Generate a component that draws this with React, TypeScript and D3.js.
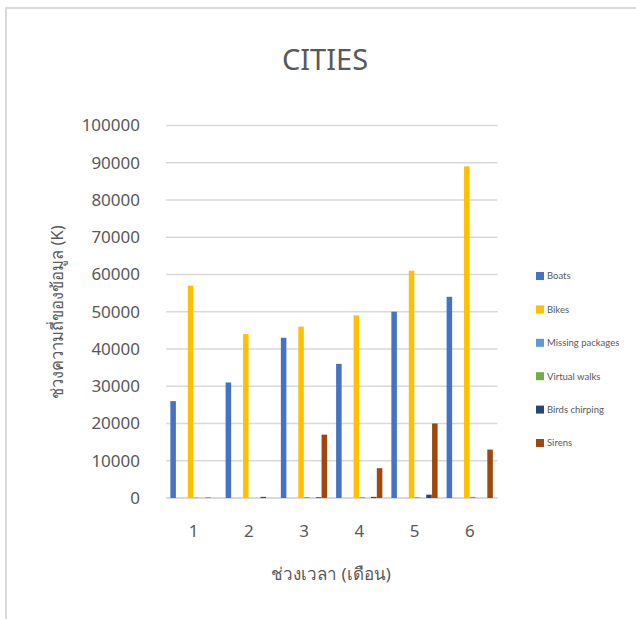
import React, { useEffect, useRef } from 'react';
import * as d3 from 'd3';

const categories = ['1', '2', '3', '4', '5', '6'];
// Excel clustered column with 8 series; series 2 and 3 are empty and have no legend entry
const seriesNames = ['Boats', 'Series 2', 'Series 3', 'Bikes', 'Missing packages', 'Virtual walks', 'Birds chirping', 'Sirens'];
const legendNames = ['Boats', 'Bikes', 'Missing packages', 'Virtual walks', 'Birds chirping', 'Sirens'];
const seriesColors = ['#4472C4', '#ED7D31', '#A5A5A5', '#FFC000', '#5B9BD5', '#70AD47', '#264478', '#9E480E'];

const boats = [26000, 31000, 43000, 36000, 50000, 54000];
const series2 = [0, 0, 0, 0, 0, 0];
const series3 = [0, 0, 0, 0, 0, 0];
const bikes = [57000, 44000, 46000, 49000, 61000, 89000];
const missingPackages = [100, 0, 200, 200, 200, 300];
const virtualWalks = [0, 0, 0, 0, 0, 0];
const birdsChirping = [100, 300, 200, 300, 900, 0];
const sirens = [0, 0, 17000, 8000, 20000, 13000];

const yTicks = [0, 10000, 20000, 30000, 40000, 50000, 60000, 70000, 80000, 90000, 100000];

const title = 'CITIES';
const xTitle = 'ช่วงเวลา (เดือน)';
const yTitle = 'ช่วงความถี่ของข้อมูล (K)';

const font = '"Segoe UI", "Noto Sans", "Open Sans", sans-serif';
const legendFont = '"Segoe UI", Lato, "Noto Sans", sans-serif';
const textColor = '#595959';

const App = () => {
	const chartRef = useRef<SVGSVGElement>(null);

	useEffect(() => {
		const values = [boats, series2, series3, bikes, missingPackages, virtualWalks, birdsChirping, sirens];
		const svg = d3.select(chartRef.current);
		svg.selectAll('*').remove();

		// chart frame
		svg.append('path')
			.attr('d', 'M6,640 L6,8 L640,8')
			.attr('fill', 'none')
			.attr('stroke', '#d9d9d9')
			.attr('stroke-width', 2);

		const x = d3.scaleBand().domain(categories).range([166, 497.5]).paddingInner(0).paddingOuter(0);
		const step = x.bandwidth();
		const barW = step / (seriesNames.length + 1.5);
		const xs = d3.scaleBand().domain(seriesNames)
			.range([barW * 0.75, step - barW * 0.75]);

		const y = d3.scaleLinear().domain([0, 100000]).range([498, 125.4]);

		// gridlines
		svg.append('g')
			.selectAll('line')
			.data(yTicks)
			.join('line')
			.attr('x1', 166)
			.attr('x2', 497.5)
			.attr('y1', d => y(d))
			.attr('y2', d => y(d))
			.attr('stroke', '#d9d9d9')
			.attr('stroke-width', d => (d === 0 ? 2 : 1.5));

		// y tick labels
		svg.append('g')
			.selectAll('text')
			.data(yTicks)
			.join('text')
			.attr('x', 140)
			.attr('y', d => y(d))
			.attr('dy', '0.35em')
			.attr('text-anchor', 'end')
			.style('font-family', font)
			.style('font-size', '17px')
			.attr('fill', textColor)
			.text(d => d);

		// bars
		seriesNames.forEach((name, si) => {
			svg.append('g')
				.selectAll('rect')
				.data(values[si])
				.join('rect')
				.attr('x', (d, i) => (x(categories[i]) as number) + (xs(name) as number))
				.attr('width', xs.bandwidth() - 0.3)
				.attr('y', d => y(d))
				.attr('height', d => y(0) - y(d))
				.attr('fill', seriesColors[si]);
		});

		// x labels
		svg.append('g')
			.selectAll('text')
			.data(categories)
			.join('text')
			.attr('x', d => (x(d) as number) + step / 2)
			.attr('y', 531)
			.attr('dy', '0.35em')
			.attr('text-anchor', 'middle')
			.style('font-family', font)
			.style('font-size', '17px')
			.attr('fill', textColor)
			.text(d => d);

		svg.append('text')
			.attr('x', 325)
			.attr('y', 70)
			.attr('text-anchor', 'middle')
			.style('font-family', font)
			.style('font-size', '29px')
			.attr('fill', textColor)
			.text(title);

		svg.append('text')
			.attr('x', 331)
			.attr('y', 580)
			.attr('text-anchor', 'middle')
			.style('font-family', font)
			.style('font-size', '17px')
			.attr('fill', textColor)
			.text(xTitle);

		svg.append('text')
			.attr('transform', 'translate(63,312) rotate(-90)')
			.attr('text-anchor', 'middle')
			.style('font-family', font)
			.style('font-size', '16.5px')
			.attr('fill', textColor)
			.text(yTitle);

		// legend
		const legend = svg.append('g');
		legendNames.forEach((name, i) => {
			const cy = 276 + i * 33.4;
			const item = legend.append('g');
			item.append('rect')
				.attr('x', 536)
				.attr('y', cy - 4)
				.attr('width', 8)
				.attr('height', 8)
				.attr('fill', seriesColors[seriesNames.indexOf(name)]);
			item.append('text')
				.attr('x', 547)
				.attr('y', cy)
				.attr('dy', '0.35em')
				.style('font-family', legendFont)
				.style('font-size', '9.5px')
				.attr('fill', textColor)
				.text(name);
		});
	}, []);

	return (
		<svg
			ref={chartRef}
			width={636}
			height={619}
			style={{ position: 'absolute', left: 0, top: 0, background: '#fff' }}
		/>
	);
};

export default App;
